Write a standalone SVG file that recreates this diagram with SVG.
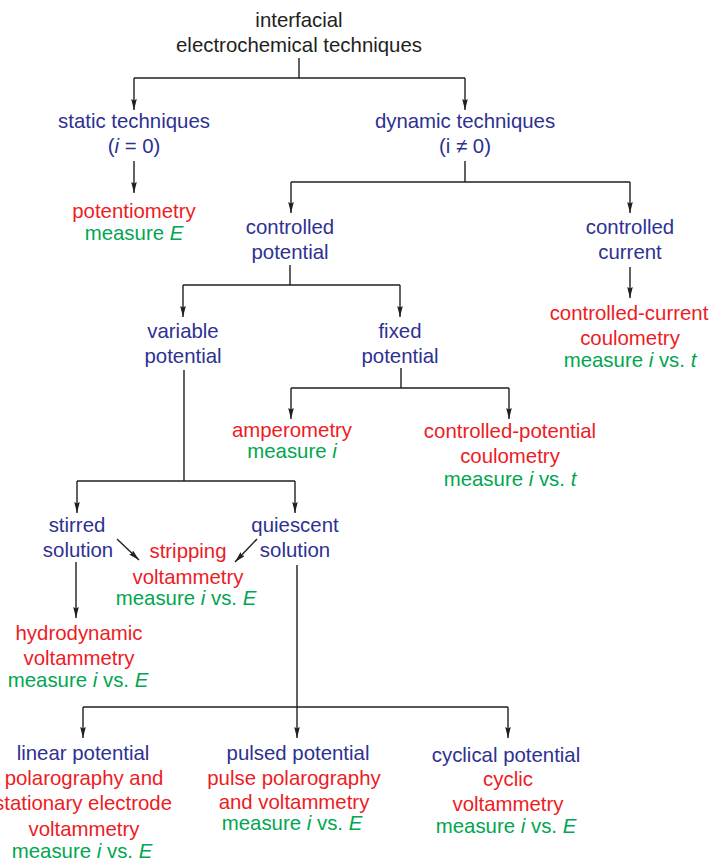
<svg xmlns="http://www.w3.org/2000/svg" width="714" height="864" viewBox="0 0 714 864">
<style>
text{font-family:"Liberation Sans",Arial,sans-serif;font-size:20.4px;text-anchor:middle}
.k{fill:#231f20}.b{fill:#2e3192}.r{fill:#ed1c24}.g{fill:#00a651}
.it{font-style:italic}
.c path{fill:none;stroke:#231f20;stroke-width:1.4}
.c .a{marker-end:url(#ah)}
</style>
<defs>
<marker id="ah" markerUnits="userSpaceOnUse" markerWidth="12" markerHeight="7" refX="11" refY="3" orient="auto">
<path d="M0,0.2 L11,3 L0,5.8 L1.5,3 Z" fill="#231f20"/>
</marker>
</defs>
<g class="c" id="connectors">
<path d="M299,58 V78 M134,78 H465"/>
<path class="a" d="M134,78 V110"/>
<path class="a" d="M465,78 V110"/>
<path class="a" d="M134,161 V193"/>
<path d="M465,161 V182 M291,182 H630"/>
<path class="a" d="M291,182 V213"/>
<path class="a" d="M630,182 V213"/>
<path d="M290,265 V285 M183,285 H400"/>
<path class="a" d="M183,285 V317"/>
<path class="a" d="M400,285 V317"/>
<path class="a" d="M630,267 V298"/>
<path d="M401,368 V388 M291,388 H509"/>
<path class="a" d="M291,388 V419"/>
<path class="a" d="M509,388 V419"/>
<path d="M184,370 V481 M77,481 H295"/>
<path class="a" d="M77,481 V513"/>
<path class="a" d="M295,481 V513"/>
<path class="a" d="M117,539 L139,560"/>
<path class="a" d="M257,539 L235,562"/>
<path class="a" d="M76,562 V618"/>
<path d="M297,565 V707 M83,707 H508"/>
<path class="a" d="M83,707 V738"/>
<path class="a" d="M297,707 V738"/>
<path class="a" d="M508,707 V738"/>
</g>
<g id="root" class="k">
<text x="299" y="27">interfacial</text>
<text x="299" y="52">electrochemical techniques</text>
</g>
<g id="static">
<text class="b" x="134" y="128">static techniques</text>
<text class="b" x="134" y="153">(<tspan class="it">i</tspan> = 0)</text>
</g>
<g id="dynamic">
<text class="b" x="465" y="128">dynamic techniques</text>
<text class="b" x="465" y="153">(i ≠ 0)</text>
</g>
<g id="potentiometry">
<text class="r" x="134" y="218">potentiometry</text>
<text class="g" x="134" y="240">measure <tspan class="it">E</tspan></text>
</g>
<g id="controlled-potential">
<text class="b" x="290" y="234">controlled</text>
<text class="b" x="290" y="259">potential</text>
</g>
<g id="controlled-current">
<text class="b" x="630" y="234">controlled</text>
<text class="b" x="630" y="259">current</text>
</g>
<g id="cc-coulometry">
<text class="r" x="629" y="320">controlled-current</text>
<text class="r" x="630" y="345">coulometry</text>
<text class="g" x="630" y="367">measure <tspan class="it">i</tspan> vs. <tspan class="it">t</tspan></text>
</g>
<g id="variable">
<text class="b" x="183" y="338">variable</text>
<text class="b" x="183" y="363">potential</text>
</g>
<g id="fixed">
<text class="b" x="400" y="338">fixed</text>
<text class="b" x="400" y="363">potential</text>
</g>
<g id="amperometry">
<text class="r" x="292" y="437">amperometry</text>
<text class="g" x="292" y="458">measure <tspan class="it">i</tspan></text>
</g>
<g id="cp-coulometry">
<text class="r" x="510" y="438">controlled-potential</text>
<text class="r" x="510" y="463">coulometry</text>
<text class="g" x="510" y="486">measure <tspan class="it">i</tspan> vs. <tspan class="it">t</tspan></text>
</g>
<g id="stirred">
<text class="b" x="77" y="532">stirred</text>
<text class="b" x="78" y="557">solution</text>
</g>
<g id="quiescent">
<text class="b" x="295" y="532">quiescent</text>
<text class="b" x="295" y="557">solution</text>
</g>
<g id="stripping">
<text class="r" x="188" y="558">stripping</text>
<text class="r" x="188" y="584">voltammetry</text>
<text class="g" x="186" y="605">measure <tspan class="it">i</tspan> vs. <tspan class="it">E</tspan></text>
</g>
<g id="hydrodynamic">
<text class="r" x="79" y="640">hydrodynamic</text>
<text class="r" x="79" y="665">voltammetry</text>
<text class="g" x="78" y="687">measure <tspan class="it">i</tspan> vs. <tspan class="it">E</tspan></text>
</g>
<g id="linear">
<text class="b" x="83" y="760">linear potential</text>
<text class="r" x="84" y="785">polarography and</text>
<text class="r" x="83" y="810">stationary electrode</text>
<text class="r" x="84" y="836">voltammetry</text>
<text class="g" x="82" y="858">measure <tspan class="it">i</tspan> vs. <tspan class="it">E</tspan></text>
</g>
<g id="pulsed">
<text class="b" x="298" y="760">pulsed potential</text>
<text class="r" x="294" y="785">pulse polarography</text>
<text class="r" x="294" y="809">and voltammetry</text>
<text class="g" x="292" y="830">measure <tspan class="it">i</tspan> vs. <tspan class="it">E</tspan></text>
</g>
<g id="cyclical">
<text class="b" x="506" y="762">cyclical potential</text>
<text class="r" x="508" y="786">cyclic</text>
<text class="r" x="508" y="811">voltammetry</text>
<text class="g" x="506" y="833">measure <tspan class="it">i</tspan> vs. <tspan class="it">E</tspan></text>
</g>
</svg>
